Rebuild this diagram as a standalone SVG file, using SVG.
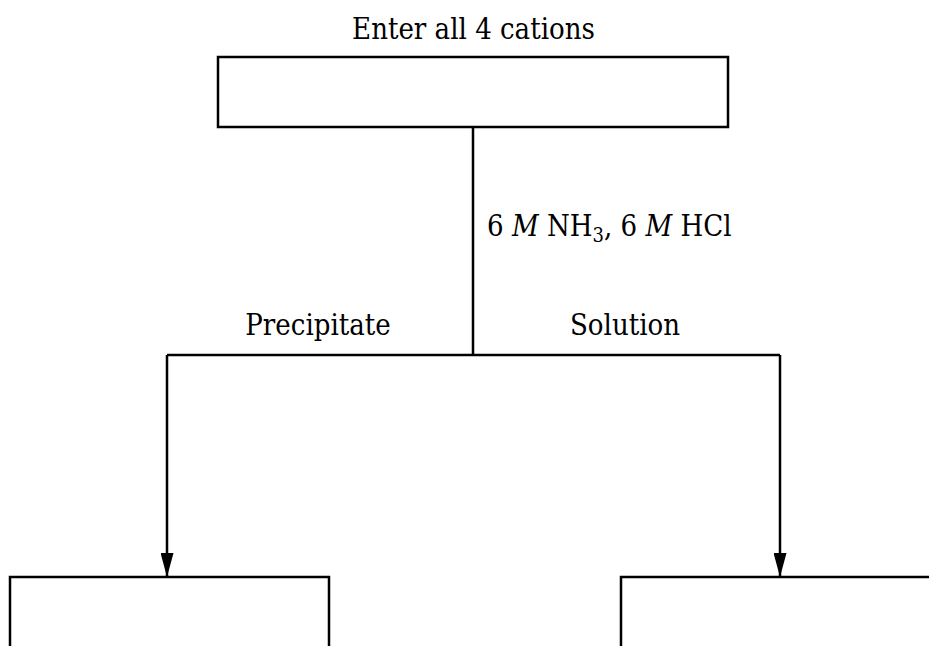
<svg xmlns="http://www.w3.org/2000/svg" width="929" height="646" viewBox="0 0 929 646">
<style>
.box{fill:none;stroke:#000;stroke-width:2.5}
.ln{fill:none;stroke:#000;stroke-width:2.5}
text{font-family:"DejaVu Serif","Liberation Serif",serif;font-stretch:condensed;font-size:29px;fill:#000}
</style>
<defs>
<marker id="ah" markerWidth="24" markerHeight="13" refX="24" refY="6.5" orient="auto" markerUnits="userSpaceOnUse" viewBox="0 0 24 13">
<path d="M0,0 L24,6.5 L0,13 Z" fill="#000"/>
</marker>
</defs>
<g id="start">
<text x="473.5" y="39" text-anchor="middle">Enter all 4 cations</text>
<rect class="box" x="218" y="57" width="510" height="70"/>
</g>
<g id="connectors">
<path class="ln" d="M473,127 V355"/>
<path class="ln" d="M167,355 H780"/>
<path class="ln" d="M167,355 V577" marker-end="url(#ah)"/>
<path class="ln" d="M780,355 V577" marker-end="url(#ah)"/>
<text x="487" y="236">6 <tspan font-style="italic">M</tspan> NH<tspan font-size="20" dy="6">3</tspan><tspan dy="-6">, 6 </tspan><tspan font-style="italic">M</tspan> HCl</text>
<text x="318" y="335" text-anchor="middle">Precipitate</text>
<text x="625" y="335" text-anchor="middle">Solution</text>
</g>
<g id="precipitate">
<rect class="box" x="10" y="577" width="319" height="100"/>
</g>
<g id="solution">
<rect class="box" x="621" y="577" width="340" height="100"/>
</g>
</svg>
